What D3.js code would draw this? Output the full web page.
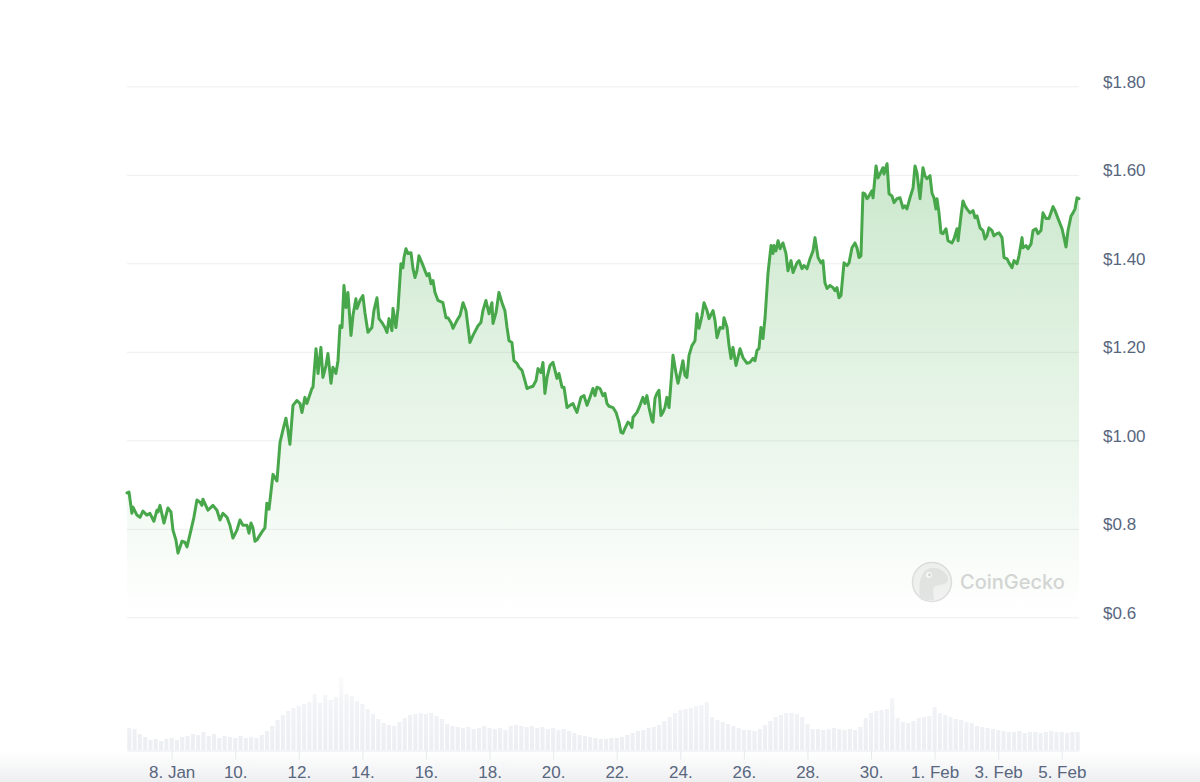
<!DOCTYPE html>
<html>
<head>
<meta charset="utf-8">
<script src="https://cdn.jsdelivr.net/npm/d3@7"></script>
<style>
  body { margin: 0; background: #fff; }
  svg { display: block; font-family: Inter, "Noto Sans", sans-serif; }
  .axis text { fill: #58667e; font-size: 17px; }
  .axis .domain { stroke: #e8eaee; }
</style>
</head>
<body>
<svg id="chart" width="1200" height="782"></svg>
<script>
// hours counted from 6 Jan 2024 00:00 UTC
var baseTime = Date.UTC(2024, 0, 6);

// [hour, price in USD]
var priceSeries = [
  [14.3,0.881],[15.8,0.883],[18.0,0.835],[18.8,0.849],[21.8,0.831],[24.1,0.826],[26.3,0.840],[29.3,0.831],[31.6,0.835],[34.6,0.817],
  [36.9,0.842],[37.7,0.838],[39.2,0.853],[42.2,0.813],[45.2,0.847],[47.5,0.838],[49.0,0.797],[51.2,0.775],[52.8,0.745],[55.8,0.772],
  [58.0,0.770],[59.6,0.759],[62.6,0.797],[64.8,0.826],[67.1,0.865],[69.4,0.860],[70.9,0.853],[71.6,0.867],[75.4,0.842],[79.2,0.853],
  [82.2,0.842],[84.5,0.820],[86.7,0.835],[89.8,0.826],[92.0,0.808],[94.3,0.779],[97.3,0.797],[99.6,0.820],[101.8,0.808],[104.9,0.808],
  [106.4,0.790],[107.9,0.813],[109.4,0.802],[110.9,0.772],[112.4,0.775],[116.2,0.793],[118.4,0.802],[119.9,0.858],[121.5,0.844],[124.5,0.923],
  [127.5,0.908],[129.8,0.995],[132.0,1.023],[134.3,1.050],[135.8,1.023],[137.3,0.991],[139.6,1.079],[142.6,1.090],[144.9,1.083],[146.4,1.063],
  [148.6,1.097],[150.1,1.083],[153.9,1.117],[154.7,1.120],[157.0,1.207],[158.5,1.151],[160.7,1.210],[162.2,1.142],[164.5,1.169],[166.0,1.196],
  [168.3,1.129],[169.8,1.165],[172.0,1.151],[173.6,1.180],[175.1,1.259],[176.6,1.255],[178.1,1.350],[179.6,1.300],[181.1,1.334],[183.4,1.237],
  [184.9,1.282],[187.1,1.320],[187.9,1.298],[190.2,1.316],[192.4,1.327],[193.9,1.289],[196.2,1.244],[199.2,1.255],[200.7,1.293],[203.0,1.322],
  [204.5,1.275],[206.8,1.266],[209.0,1.255],[210.6,1.244],[212.1,1.275],[214.3,1.248],[215.1,1.298],[217.3,1.255],[218.9,1.298],[221.1,1.399],
  [222.6,1.390],[223.4,1.413],[224.9,1.433],[226.4,1.422],[228.7,1.424],[230.2,1.388],[231.7,1.368],[233.2,1.383],[234.7,1.417],[237.0,1.401],
  [239.3,1.383],[240.8,1.372],[242.3,1.377],[243.8,1.354],[245.3,1.361],[246.8,1.334],[249.1,1.316],[252.8,1.311],[255.1,1.277],[256.6,1.277],
  [258.9,1.266],[260.4,1.253],[263.4,1.271],[265.7,1.282],[268.0,1.311],[270.2,1.293],[273.2,1.221],[275.5,1.237],[279.3,1.259],[281.5,1.266],
  [283.0,1.293],[285.3,1.316],[287.6,1.286],[289.8,1.311],[290.6,1.264],[292.9,1.289],[295.1,1.334],[297.4,1.311],[299.6,1.293],[301.2,1.255],
  [302.7,1.225],[304.9,1.221],[306.4,1.180],[308.7,1.174],[310.2,1.165],[312.5,1.158],[314.7,1.135],[316.3,1.117],[318.5,1.120],[320.8,1.122],
  [323.1,1.135],[324.6,1.162],[326.8,1.153],[328.3,1.176],[329.8,1.106],[331.4,1.142],[333.6,1.169],[335.9,1.176],[337.4,1.158],[338.9,1.140],
  [340.4,1.151],[342.7,1.120],[344.2,1.120],[346.5,1.074],[348.7,1.079],[351.0,1.083],[352.5,1.072],[354.0,1.063],[357.0,1.097],[359.3,1.101],
  [361.6,1.079],[363.8,1.097],[366.1,1.117],[367.6,1.101],[369.1,1.120],[371.4,1.117],[373.6,1.101],[375.1,1.106],[376.7,1.083],[378.2,1.077],
  [381.2,1.074],[383.5,1.063],[385.7,1.041],[387.2,1.018],[388.7,1.016],[390.2,1.027],[392.5,1.041],[394.0,1.038],[395.5,1.029],[396.3,1.052],
  [399.3,1.063],[401.6,1.079],[403.8,1.097],[405.3,1.083],[406.8,1.101],[408.4,1.074],[410.6,1.045],[411.4,1.041],[412.9,1.095],[414.4,1.106],
  [415.9,1.113],[417.4,1.056],[418.9,1.063],[420.4,1.074],[421.9,1.097],[423.5,1.074],[425.7,1.158],[426.5,1.192],[428.0,1.165],[429.5,1.140],
  [430.3,1.129],[432.5,1.158],[434.0,1.180],[435.5,1.147],[437.0,1.142],[438.6,1.192],[440.8,1.214],[443.1,1.225],[444.6,1.286],[446.1,1.253],
  [448.4,1.282],[449.9,1.311],[452.2,1.293],[453.7,1.275],[456.7,1.293],[458.2,1.271],[459.7,1.232],[462.0,1.255],[464.2,1.253],[465.0,1.277],
  [467.3,1.255],[468.8,1.214],[470.3,1.185],[471.8,1.210],[474.1,1.169],[477.1,1.207],[479.3,1.187],[482.4,1.174],[484.6,1.176],[486.9,1.185],
  [488.4,1.180],[489.9,1.203],[491.4,1.207],[492.9,1.255],[494.4,1.230],[496.0,1.277],[498.2,1.377],[500.5,1.440],[502.0,1.422],[502.7,1.440],
  [504.2,1.428],[505.8,1.451],[507.3,1.433],[509.5,1.446],[511.8,1.422],[513.3,1.383],[515.6,1.406],[517.1,1.379],[520.1,1.401],[521.6,1.406],
  [523.9,1.388],[525.4,1.395],[527.7,1.388],[529.9,1.410],[532.2,1.428],[533.7,1.458],[536.0,1.413],[538.2,1.401],[539.7,1.406],[541.2,1.356],
  [542.8,1.343],[545.0,1.350],[547.3,1.345],[548.8,1.338],[550.3,1.345],[551.8,1.322],[553.3,1.327],[555.6,1.401],[557.9,1.395],[559.4,1.401],
  [561.6,1.435],[563.9,1.446],[565.4,1.435],[566.9,1.413],[568.4,1.417],[569.9,1.559],[571.4,1.557],[572.9,1.546],[573.7,1.548],[576.7,1.564],
  [577.5,1.548],[579.8,1.620],[581.3,1.593],[582.8,1.602],[585.0,1.616],[585.8,1.602],[588.1,1.625],[589.6,1.557],[591.8,1.552],[593.4,1.537],
  [595.6,1.546],[597.9,1.548],[600.1,1.525],[601.6,1.530],[603.1,1.523],[605.4,1.548],[607.7,1.570],[609.2,1.620],[610.7,1.604],[613.0,1.546],
  [615.2,1.616],[616.7,1.598],[618.2,1.591],[620.5,1.598],[622.0,1.559],[623.5,1.548],[625.0,1.523],[625.8,1.546],[627.3,1.514],[628.8,1.469],
  [630.3,1.467],[632.6,1.478],[634.1,1.451],[637.1,1.446],[638.6,1.455],[640.9,1.478],[641.7,1.451],[643.9,1.507],[645.4,1.541],[646.9,1.530],
  [648.4,1.523],[650.7,1.514],[653.0,1.519],[654.5,1.503],[656.0,1.507],[658.3,1.480],[660.5,1.474],[662.0,1.455],[663.5,1.462],[665.0,1.480],
  [667.3,1.474],[668.8,1.462],[671.1,1.467],[672.6,1.469],[674.9,1.458],[676.4,1.413],[678.7,1.410],[680.2,1.401],[682.4,1.390],[683.9,1.406],
  [686.2,1.399],[687.7,1.417],[690.0,1.458],[690.7,1.435],[693.0,1.440],[694.5,1.433],[696.8,1.444],[698.3,1.474],[700.5,1.478],[702.0,1.467],
  [704.3,1.474],[705.8,1.514],[708.1,1.501],[710.3,1.501],[713.4,1.528],[714.9,1.519],[717.2,1.501],[720.2,1.478],[721.7,1.458],[723.2,1.437],
  [724.7,1.474],[727.0,1.507],[728.5,1.514],[730.0,1.523],[731.5,1.548],[733.0,1.546]
];

// 4-hourly volume (USD millions), first bar at hour 16
var volumeStartHour = 16;
var volumeStepHours = 4;
var volumes = [
  22,21,16,13,10,11,9,11,12,10,
  13,14,16,15,18,14,16,12,14,13,
  12,14,12,13,12,15,19,24,30,35,
  39,42,44,46,48,56,47,55,50,53,
  73,56,54,49,46,41,36,31,27,25,
  24,28,32,35,36,37,36,37,34,31,
  26,24,23,22,23,21,22,24,22,21,
  22,20,24,25,24,23,24,22,23,21,
  22,20,21,19,17,15,14,13,12,11,
  11,12,12,13,15,17,19,20,22,23,
  25,29,33,37,40,41,42,44,45,48,
  33,30,28,26,24,22,20,20,19,21,
  25,29,33,35,37,37,36,33,26,21,
  21,20,21,22,21,20,21,20,23,32,
  37,39,40,41,52,32,28,27,29,32,
  33,34,43,37,35,33,31,30,28,27,
  24,23,22,21,20,19,18,18,19,17,
  18,18,17,18,19,18,18,17,18,18
];

var priceTicks = [0.6, 0.8, 1.0, 1.2, 1.4, 1.6, 1.8];
var priceTickLabels = ['$0.6', '$0.8', '$1.00', '$1.20', '$1.40', '$1.60', '$1.80'];
var dateTicks = ['2024-01-08', '2024-01-10', '2024-01-12', '2024-01-14', '2024-01-16', '2024-01-18', '2024-01-20',
  '2024-01-22', '2024-01-24', '2024-01-26', '2024-01-28', '2024-01-30', '2024-02-01', '2024-02-03', '2024-02-05'];
var dateTickLabels = ['8. Jan', '10.', '12.', '14.', '16.', '18.', '20.', '22.', '24.', '26.', '28.', '30.', '1. Feb', '3. Feb', '5. Feb'];

var plot = { left: 127, right: 1079, top: 86.3, bottom: 617.3, volTop: 677, volBottom: 750 };
var lineColor = '#48a74b';

function hourToDate(h) {
  return new Date(baseTime + h * 3600e3);
}

var points = priceSeries.map(function (d) {
  return { date: hourToDate(d[0]), price: d[1] };
});
var bars = volumes.map(function (v, i) {
  return { date: hourToDate(volumeStartHour + i * volumeStepHours), volume: v };
});

var svg = d3.select('#chart');

var x = d3.scaleUtc()
  .domain(d3.extent(points, function (d) { return d.date; }))
  .range([plot.left, plot.right]);
var y = d3.scaleLinear()
  .domain([0.6, 1.8])
  .range([plot.bottom, plot.top]);
var yVol = d3.scaleLinear()
  .domain([0, d3.max(volumes)])
  .range([plot.volBottom, plot.volTop]);

var defs = svg.append('defs');

var areaGrad = defs.append('linearGradient')
  .attr('id', 'areaGrad')
  .attr('gradientUnits', 'userSpaceOnUse')
  .attr('x1', 0).attr('x2', 0)
  .attr('y1', 150).attr('y2', plot.bottom);
areaGrad.append('stop').attr('offset', 0).attr('stop-color', '#4caf50').attr('stop-opacity', 0.3);
areaGrad.append('stop').attr('offset', 1).attr('stop-color', '#4caf50').attr('stop-opacity', 0.0);

var volGrad = defs.append('linearGradient')
  .attr('id', 'volGrad')
  .attr('gradientUnits', 'userSpaceOnUse')
  .attr('x1', 0).attr('x2', 0)
  .attr('y1', plot.volTop).attr('y2', plot.volBottom);
volGrad.append('stop').attr('offset', 0).attr('stop-color', '#fbfbfc');
volGrad.append('stop').attr('offset', 0.4).attr('stop-color', '#f2f3f6');
volGrad.append('stop').attr('offset', 1).attr('stop-color', '#eceef2');

var footGrad = defs.append('linearGradient')
  .attr('id', 'footGrad')
  .attr('x1', 0).attr('x2', 0).attr('y1', 0).attr('y2', 1);
footGrad.append('stop').attr('offset', 0).attr('stop-color', '#ffffff');
footGrad.append('stop').attr('offset', 1).attr('stop-color', '#eeeff1');

// faint grey band under the date axis
svg.append('rect')
  .attr('x', 0).attr('y', plot.volBottom + 1)
  .attr('width', 1200).attr('height', 782 - plot.volBottom - 1)
  .attr('fill', 'url(#footGrad)');

// grid + price labels
var yAxis = d3.axisRight(y)
  .tickValues(priceTicks)
  .tickFormat(function (d, i) { return priceTickLabels[i]; })
  .tickSize(-(plot.right - plot.left))
  .tickPadding(24);

var yg = svg.append('g')
  .attr('class', 'axis y')
  .attr('transform', 'translate(' + plot.right + ',0)')
  .call(yAxis);
yg.select('.domain').remove();
yg.selectAll('.tick line').attr('stroke', '#eceef1');
yg.selectAll('.tick text').attr('dy', '0.05em');

// volume bars
var barW = x(hourToDate(volumeStepHours)) - x(hourToDate(0));
svg.append('g')
  .attr('class', 'volume')
  .selectAll('rect')
  .data(bars)
  .enter()
  .append('rect')
  .attr('x', function (d) { return x(d.date) - barW / 2 + 0.6; })
  .attr('y', function (d) { return yVol(d.volume); })
  .attr('width', barW - 1.2)
  .attr('height', function (d) { return plot.volBottom - yVol(d.volume); })
  .attr('fill', 'url(#volGrad)');

// date axis
var xAxis = d3.axisBottom(x)
  .tickValues(dateTicks.map(function (s) { return new Date(s + 'T00:00:00Z'); }))
  .tickFormat(function (d, i) { return dateTickLabels[i]; })
  .tickSize(9)
  .tickSizeOuter(0)
  .tickPadding(6);

var xg = svg.append('g')
  .attr('class', 'axis x')
  .attr('transform', 'translate(0,' + (plot.volBottom + 0.5) + ')')
  .call(xAxis);
xg.selectAll('.tick line').attr('stroke', '#e6e8ec');

// watermark
var mark = svg.append('g').attr('class', 'watermark').attr('opacity', 0.9);
mark.append('circle')
  .attr('cx', 932).attr('cy', 582).attr('r', 19.5)
  .attr('fill', '#f1f1f1').attr('stroke', '#dcdcdc').attr('stroke-width', 1.5);
mark.append('path')
  .attr('d', 'M921,600 C918,590 919,577 925,571 C930,566 939,567 944,572 C949,576 950,582 944,584 C939,586 934,584 933,590 L934,600 Z')
  .attr('fill', '#e2e2e2');
mark.append('circle')
  .attr('cx', 929).attr('cy', 575).attr('r', 3)
  .attr('fill', '#fafafa');
mark.append('circle')
  .attr('cx', 929.5).attr('cy', 575).attr('r', 1.4)
  .attr('fill', '#d0d0d0');
mark.append('text')
  .attr('x', 960).attr('y', 589)
  .attr('font-size', 20)
  .attr('font-weight', 500)
  .attr('fill', '#d2d2d2')
  .text('CoinGecko');

// price area + line
var area = d3.area()
  .x(function (d) { return x(d.date); })
  .y0(y(0.6))
  .y1(function (d) { return y(d.price); });

var line = d3.line()
  .x(function (d) { return x(d.date); })
  .y(function (d) { return y(d.price); });

svg.append('path')
  .datum(points)
  .attr('class', 'area')
  .attr('d', area)
  .attr('fill', 'url(#areaGrad)');

svg.append('path')
  .datum(points)
  .attr('class', 'line')
  .attr('d', line)
  .attr('fill', 'none')
  .attr('stroke', lineColor)
  .attr('stroke-width', 3)
  .attr('stroke-linejoin', 'round')
  .attr('stroke-linecap', 'round');
</script>
</body>
</html>
